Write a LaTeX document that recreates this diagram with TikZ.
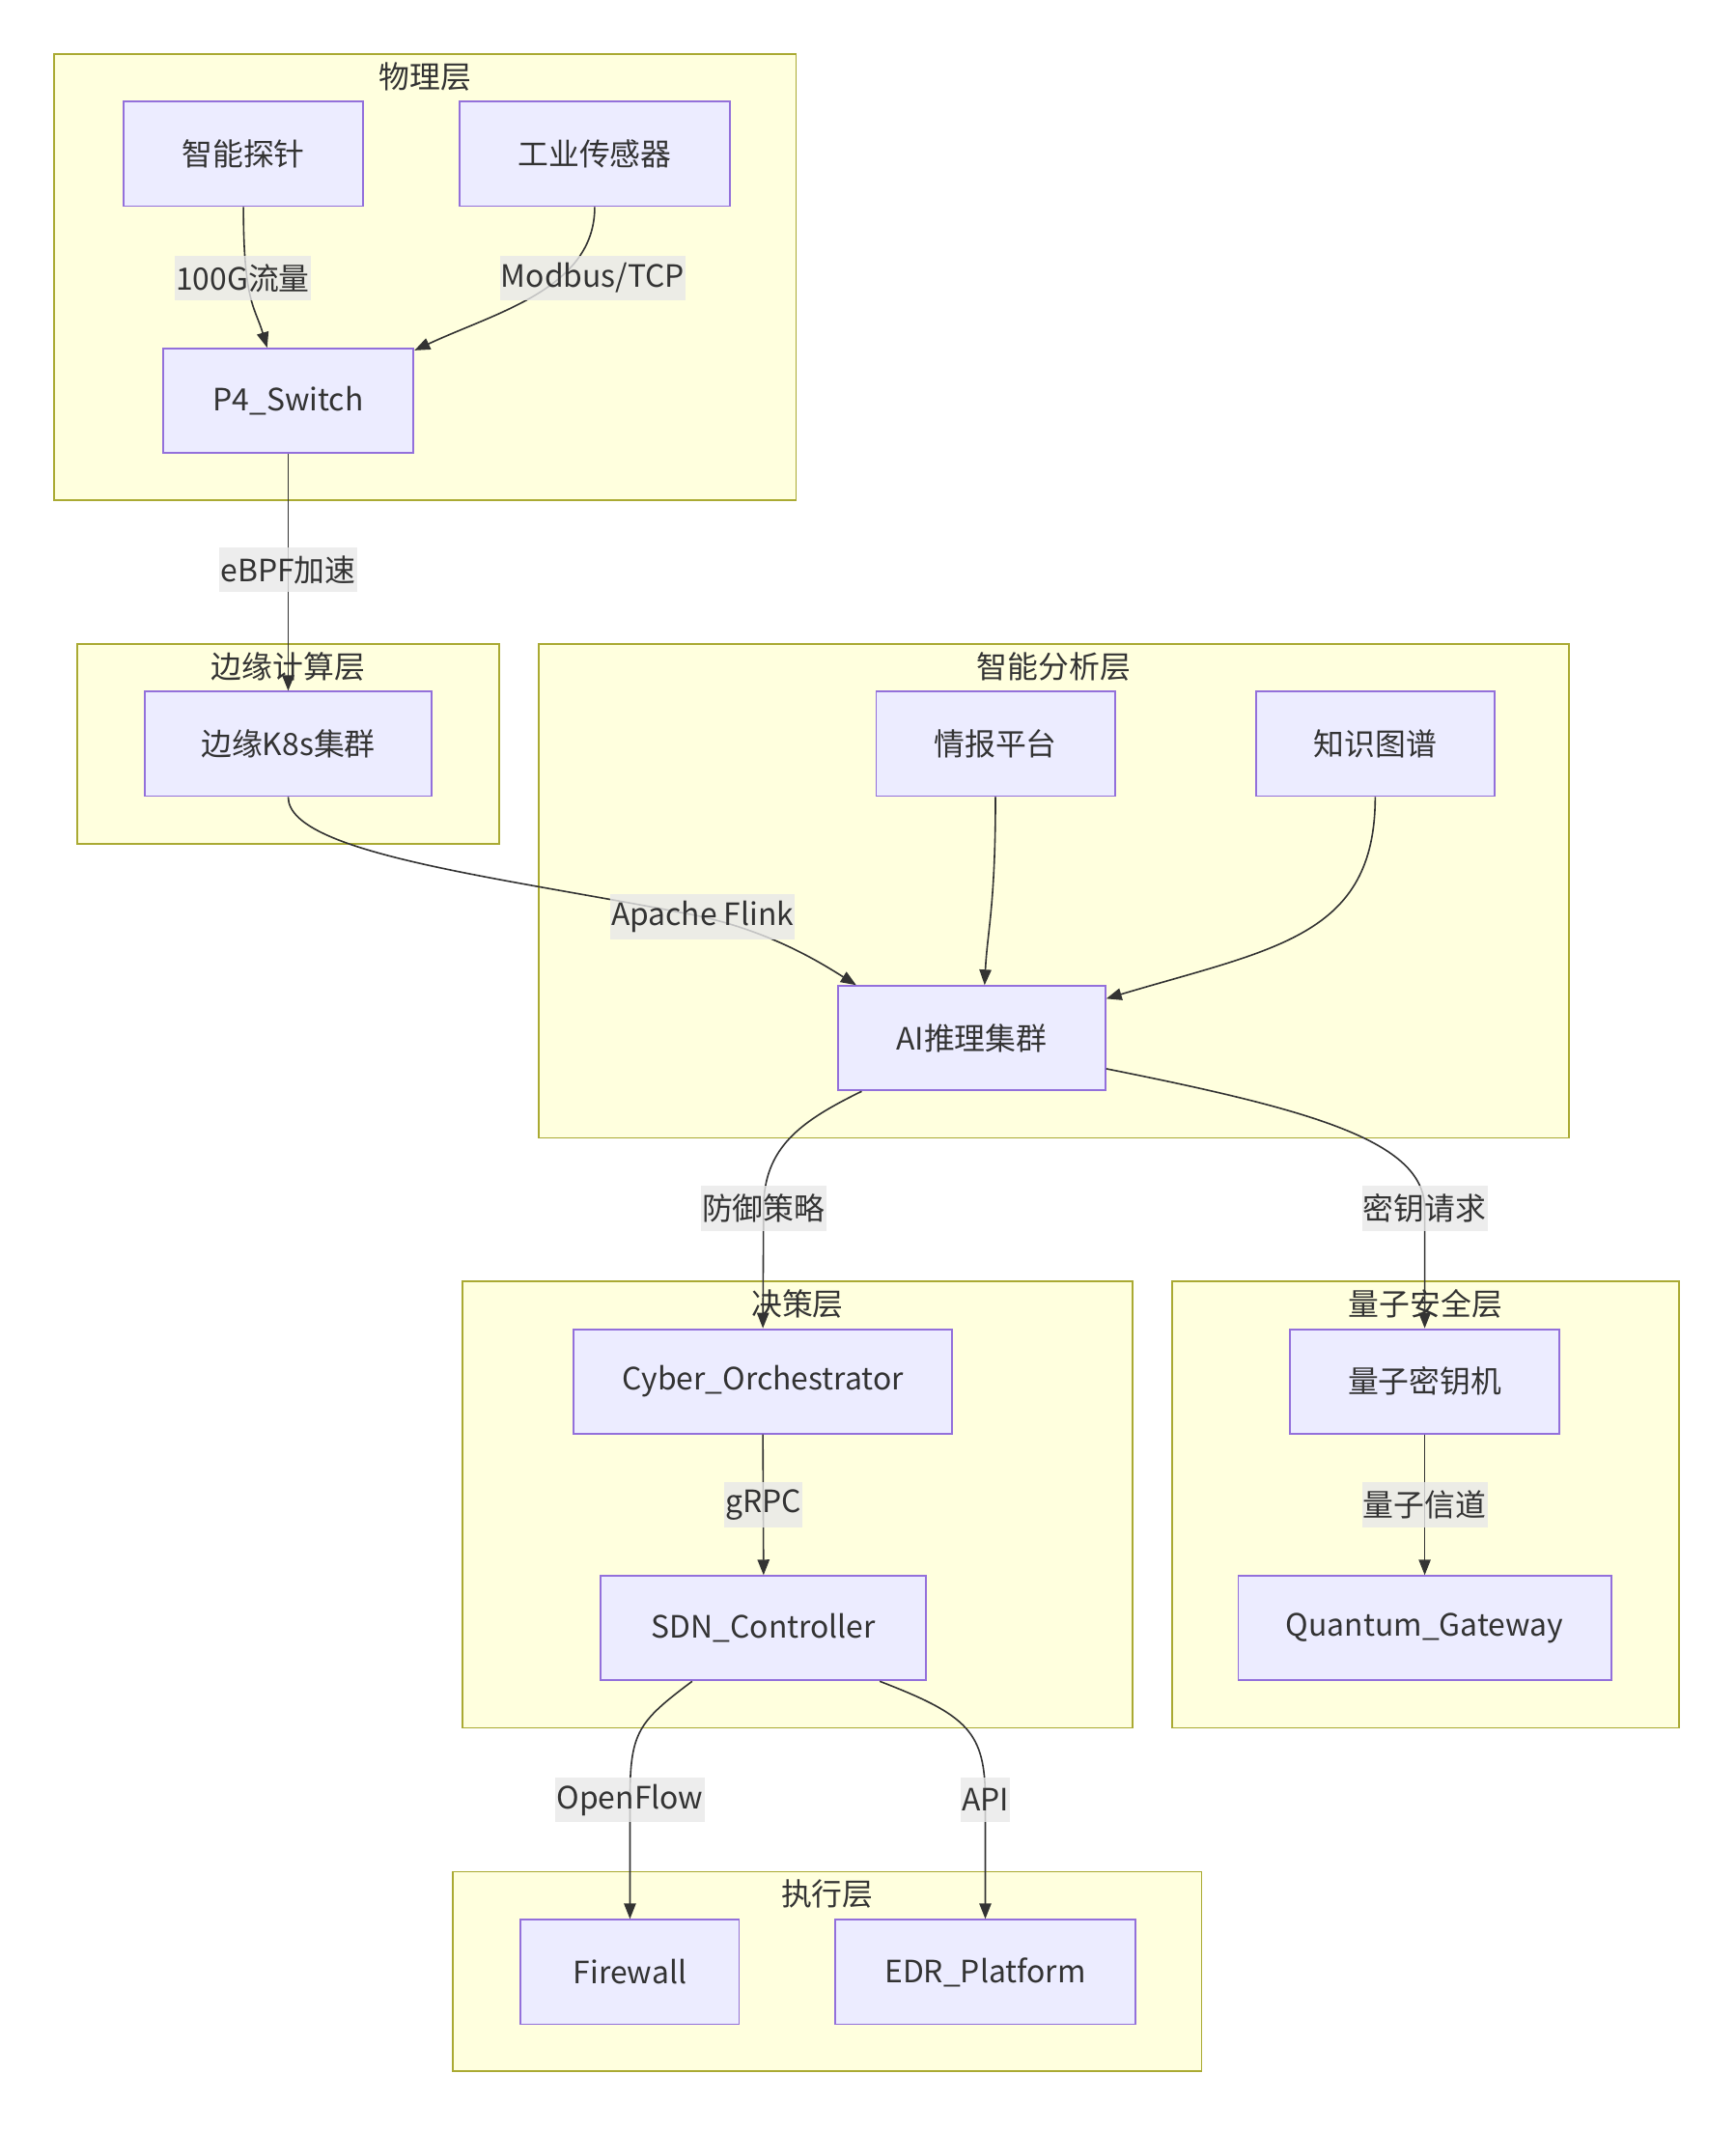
\documentclass[tikz,border=0pt]{standalone}
\usepackage{fontspec}
\setmainfont{Noto Sans CJK SC}
\usetikzlibrary{arrows.meta,calc}

\definecolor{nodefill}{HTML}{ECECFF}
\definecolor{nodeline}{HTML}{9370DB}
\definecolor{layerfill}{HTML}{FFFFDE}
\definecolor{layerline}{HTML}{AAAA33}
\definecolor{labelfill}{HTML}{E8E8E8}
\definecolor{inkgray}{HTML}{333333}

\begin{document}
\begin{tikzpicture}[x=0.02cm,y=-0.02cm,
  txt/.style={font=\fontsize{12.9pt}{15pt}\selectfont, text=inkgray},
  block/.style={txt, draw=nodeline, fill=nodefill, line width=0.75pt, minimum height=1.54cm, inner sep=0pt},
  layer/.style={draw=layerline, fill=layerfill, line width=0.75pt},
  edge/.style={draw=inkgray, line width=0.65pt, -{Triangle[length=6.5pt,width=5pt]}},
  elabel/.style={txt, fill=labelfill, fill opacity=0.8, text opacity=1, inner xsep=0.5pt, inner ysep=0pt, minimum height=0.66cm}]

\useasboundingbox (0,0) rectangle (1280,1570.5);

% layers (subgraphs)
\foreach \name/\xa/\ya/\xb/\yb/\title in {
    phys/40/40/587/369/物理层,
    edgelayer/57/475/368/622/边缘计算层,
    ana/397/475/1157/839/智能分析层,
    dec/341/945/835/1274/决策层,
    qsec/864/945/1238/1274/量子安全层,
    exe/334/1380/886/1527/执行层}{
  \draw[layer] (\xa,\ya) rectangle (\xb,\yb);
  \node[txt] (\name) at ({(\xa+\xb)/2},{\ya+16.5}) {\title};
}

% nodes
\node[block, minimum width=3.54cm] (probe) at (179.5,113.5) {智能探针};
\node[block, minimum width=3.98cm] (sensor) at (438.5,113.5) {工业传感器};
\node[block, minimum width=3.70cm] (p4) at (212.5,295.5) {P4\_Switch};
\node[block, minimum width=4.22cm] (k8s) at (212.5,548.5) {边缘K8s集群};
\node[block, minimum width=3.52cm] (intel) at (734,548.5) {情报平台};
\node[block, minimum width=3.52cm] (kg) at (1014,548.5) {知识图谱};
\node[block, minimum width=3.94cm] (ai) at (716.5,765.5) {AI推理集群};
\node[block, minimum width=5.58cm] (orch) at (562.5,1018.5) {Cyber\_Orchestrator};
\node[block, minimum width=4.80cm] (sdn) at (563,1200.5) {SDN\_Controller};
\node[block, minimum width=3.98cm] (qkm) at (1050.5,1018.5) {量子密钥机};
\node[block, minimum width=5.50cm] (qgw) at (1050.5,1200.5) {Quantum\_Gateway};
\node[block, minimum width=3.22cm] (fw) at (464.5,1454) {Firewall};
\node[block, minimum width=4.42cm] (edr) at (726.5,1454) {EDR\_Platform};

% edges
\draw[edge] (probe.south) .. controls +(0,70) and +(-9,-30) .. ($(p4.north)+(-15.5,0)$)
    node[elabel] at (179,205) {100G流量};
\draw[edge] (sensor.south) .. controls +(0,60) and +(60,-28) .. ($(p4.north east)+(0,2)$)
    node[elabel] at (437,205) {Modbus/TCP};
\draw[edge] (p4.south) -- (k8s.north) node[elabel, pos=0.49] {eBPF加速};
\draw[edge] (k8s.south) .. controls +(0,43) and (380,648) .. (518,676)
    node[elabel] {Apache Flink}
    .. controls +(52,12) and +(-27,-17) .. ($(ai.north west)+(14,0)$);
\draw[edge] (intel.south) .. controls +(0,80) and +(2,-40) .. ($(ai.north)+(9.5,0)$);
\draw[edge] (kg.south) .. controls +(0,103) and +(124,-37) .. ($(ai.north east)+(0,10)$);
\draw[edge] ($(ai.south west)+(18,0)$) .. controls +(-45,22) and +(0,-45) .. (563,891)
    node[elabel] {防御策略} -- (orch.north);
\draw[edge] ($(ai.east)+(0,22.5)$) .. controls +(150,30) and +(0,-50) .. (1050.5,891)
    node[elabel] {密钥请求} -- (qkm.north);
\draw[edge] (orch.south) -- (sdn.north) node[elabel, midway] {gRPC};
\draw[edge] (qkm.south) -- (qgw.north) node[elabel, midway] {量子信道};
\draw[edge] ($(sdn.south west)+(68,0)$) .. controls +(-40,30) and +(0,-50) .. (464.5,1327)
    node[elabel] {OpenFlow} -- (fw.north);
\draw[edge] ($(sdn.south east)+(-35,0)$) .. controls +(65,25) and +(0,-50) .. (726.5,1327)
    node[elabel] {API} -- (edr.north);

\end{tikzpicture}
\end{document}
